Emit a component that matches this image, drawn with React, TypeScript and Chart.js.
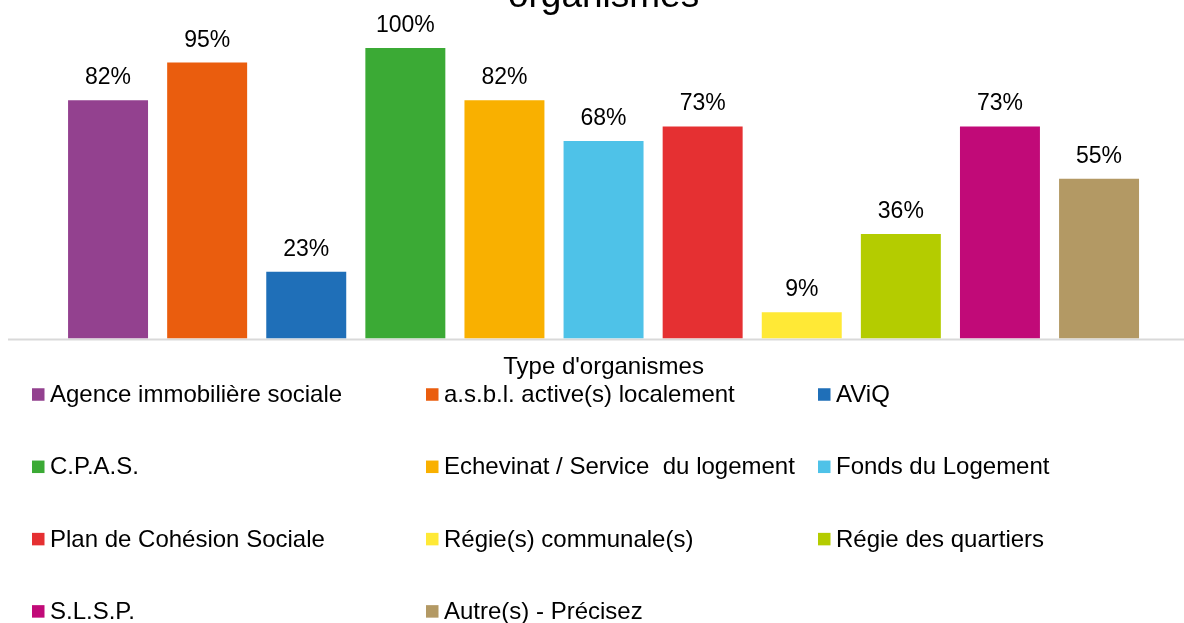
import { useEffect, useRef } from "react";
import { Chart, registerables } from "chart.js";

Chart.register(...registerables);

const categories = [
  "Agence immobilière sociale",
  "a.s.b.l. active(s) localement",
  "AViQ",
  "C.P.A.S.",
  "Echevinat / Service  du logement",
  "Fonds du Logement",
  "Plan de Cohésion Sociale",
  "Régie(s) communale(s)",
  "Régie des quartiers",
  "S.L.S.P.",
  "Autre(s) - Précisez",
];
const values = [82, 95, 23, 100, 82, 68, 73, 9, 36, 73, 55];
const valueLabels = ["82%", "95%", "23%", "100%", "82%", "68%", "73%", "9%", "36%", "73%", "55%"];
const barColors = [
  "#93418F",
  "#EA5D0E",
  "#1F6FB8",
  "#3BAA35",
  "#F9B000",
  "#4EC2E8",
  "#E53032",
  "#FFE936",
  "#B4CC00",
  "#C10A78",
  "#B39964",
];
const titleText = "organismes";
const axisTitleText = "Type d'organismes";

const FONT = "'Liberation Sans', Arial, Helvetica, sans-serif";
const CANVAS_W = 1184;
const CANVAS_H = 648;
const TOP_SHIFT = 25;

const axisLinePlugin = {
  id: "axisLine",
  beforeDatasetsDraw(chart: any) {
    const { ctx, chartArea } = chart;
    ctx.save();
    ctx.strokeStyle = "#d9d9d9";
    ctx.lineWidth = 2;
    ctx.beginPath();
    ctx.moveTo(8, chartArea.bottom + 1);
    ctx.lineTo(chart.width, chartArea.bottom + 1);
    ctx.stroke();
    ctx.restore();
  },
};

const valueLabelPlugin = {
  id: "valueLabels",
  afterDatasetsDraw(chart: any) {
    const { ctx } = chart;
    const meta = chart.getDatasetMeta(0);
    ctx.save();
    ctx.font = `23px ${FONT}`;
    ctx.fillStyle = "#000";
    ctx.textAlign = "center";
    ctx.textBaseline = "alphabetic";
    meta.data.forEach((bar: any, i: number) => {
      ctx.fillText(valueLabels[i], bar.x, bar.y - 16);
    });
    ctx.restore();
  },
};

const gridLegendPlugin = {
  id: "gridLegend",
  afterDraw(chart: any) {
    const { ctx, chartArea } = chart;
    const colX = [32, 426, 818];
    const firstRow = chartArea.bottom + 56;
    const rowStep = 72.3;
    const box = 12.5;
    ctx.save();
    ctx.font = `24px ${FONT}`;
    ctx.textAlign = "left";
    ctx.textBaseline = "middle";
    categories.forEach((label, i) => {
      const col = i % 3;
      const row = Math.floor(i / 3);
      const cy = firstRow + row * rowStep;
      ctx.fillStyle = barColors[i];
      ctx.fillRect(colX[col], cy - box / 2, box, box);
      ctx.fillStyle = "#000";
      ctx.fillText(label, colX[col] + 18, cy + 1);
    });
    ctx.restore();
  },
};

export default function App() {
  const canvasRef = useRef<HTMLCanvasElement | null>(null);

  useEffect(() => {
    if (!canvasRef.current) return;
    const chart = new Chart(canvasRef.current, {
      type: "bar",
      data: {
        labels: categories,
        datasets: [
          {
            data: values,
            backgroundColor: barColors,
            borderWidth: 0,
            barPercentage: 0.807,
            categoryPercentage: 1,
          },
        ],
      },
      options: {
        responsive: false,
        animation: false,
        layout: {
          padding: { left: 58.5, right: 35.4, top: 0, bottom: 241.7 },
        },
        plugins: {
          legend: { display: false },
          tooltip: { enabled: false },
          title: {
            display: true,
            text: titleText,
            color: "#000",
            font: { family: FONT, size: 37, weight: "normal" },
            padding: { top: 0, bottom: 28.6 },
          },
        },
        scales: {
          x: {
            grid: { display: false, drawTicks: false },
            border: { display: false },
            ticks: { display: false },
            title: {
              display: true,
              text: axisTitleText,
              color: "#000",
              font: { family: FONT, size: 24 },
              padding: { top: 14, bottom: 0 },
            },
          },
          y: {
            display: false,
            min: 0,
            max: 100,
          },
        },
      },
      plugins: [axisLinePlugin, valueLabelPlugin, gridLegendPlugin],
    });
    return () => chart.destroy();
  }, []);

  return (
    <div
      style={{
        position: "absolute",
        left: 0,
        top: -TOP_SHIFT,
        width: CANVAS_W,
        height: CANVAS_H,
        background: "#fff",
      }}
    >
      <canvas ref={canvasRef} width={CANVAS_W} height={CANVAS_H} />
    </div>
  );
}
